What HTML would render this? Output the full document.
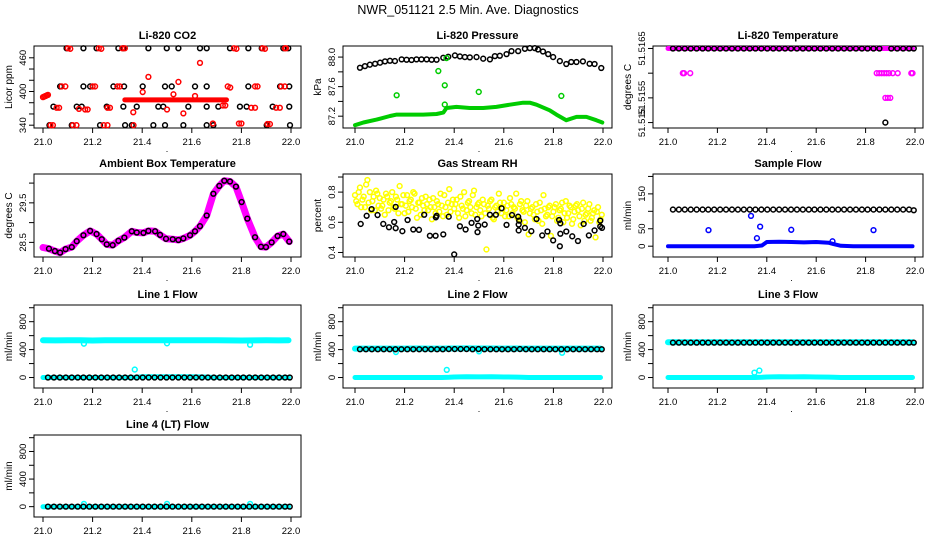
<!DOCTYPE html>
<html><head><meta charset="utf-8"><style>
html,body{margin:0;padding:0;background:#fff;}
svg{display:block;font-family:"Liberation Sans",Arial,sans-serif;}
</style></head><body>
<svg id="chart" width="936" height="540" viewBox="0 0 936 540">
<text x="468" y="14" text-anchor="middle" font-size="12.5">NWR_051121  2.5 Min. Ave. Diagnostics</text>
</svg>
<script>
// ---------- shared time axis ----------
const xTicks=[21.0,21.2,21.4,21.6,21.8,22.0];
const xTickLabels=["21.0","21.2","21.4","21.6","21.8","22.0"];
const T42=[21.020,21.044,21.068,21.092,21.116,21.140,21.163,21.187,21.211,21.235,21.259,21.283,21.307,21.331,21.354,21.378,21.402,21.426,21.450,21.474,21.498,21.522,21.546,21.570,21.593,21.617,21.641,21.665,21.689,21.713,21.737,21.761,21.785,21.808,21.832,21.856,21.880,21.904,21.928,21.952,21.976,21.995];
const bandT=[21.0,21.05,21.1,21.15,21.2,21.25,21.3,21.35,21.38,21.4,21.45,21.5,21.55,21.6,21.65,21.67,21.7,21.75,21.8,21.85,21.9,21.95,21.99];

// ---------- CO2 ----------
const co2BlackT=[21.026,21.116,21.230,21.331,21.358,21.445,21.492,21.566,21.660,21.687,21.902,21.996,
21.042,21.136,21.156,21.257,21.324,21.378,21.465,21.485,21.586,21.660,21.707,21.794,21.821,21.926,21.993,
21.069,21.163,21.190,21.284,21.327,21.402,21.492,21.519,21.613,21.660,21.828,21.956,21.993,
21.095,21.163,21.216,21.304,21.324,21.425,21.499,21.546,21.633,21.660,21.754,21.828,21.882,21.969,21.989];
const co2BlackV=[340,340,340,340,340,340,340,340,340,340,340,340,
373,373,373,373,373,373,373,373,373,373,373,373,373,373,373,
409,409,409,409,409,409,409,409,409,409,409,409,409,
477,477,477,477,477,477,477,477,477,477,477,477,477,477,477];
const co2RedT=[21.0,21.005,21.01,21.015,21.02,21.03,21.04,21.12,21.135,21.245,21.26,21.365,21.685,21.79,21.80,21.905,21.915,
21.055,21.065,21.145,21.17,21.18,21.26,21.27,21.725,21.735,21.84,21.855,21.94,21.955,
21.075,21.09,21.2,21.21,21.3,21.31,21.745,21.755,21.855,21.865,21.96,21.975,
21.1,21.11,21.225,21.235,21.32,21.33,21.77,21.78,21.885,21.895,21.975,21.98,
21.425,21.546,21.526,21.633,21.613,21.402,21.364,21.566,21.5];
const co2RedV=[390,391,392,393,394,340,340,340,340,340,340,340,343,343,343,342,342,
371,371,369,368,368,371,371,375,375,371,371,371,371,
409,409,409,409,409,409,409,407,409,409,409,409,
477,476,477,476,477,477,477,476,477,476,477,477,
426,417,395,451,392,399,363,361,368];
const co2BandT=[21.33,21.4,21.5,21.6,21.7,21.74];
const co2BandV=[385,385,385,385,385,385];

// ---------- Pressure ----------
const prBlackT=[21.020,21.040,21.060,21.081,21.101,21.121,21.141,21.161,21.188,21.208,21.228,21.248,21.268,21.289,21.309,21.329,21.356,21.376,21.403,21.423,21.443,21.463,21.490,21.517,21.544,21.564,21.584,21.611,21.631,21.658,21.685,21.705,21.725,21.738,21.758,21.779,21.799,21.826,21.852,21.872,21.893,21.919,21.946,21.966,21.993];
const prBlackV=[87.856,87.878,87.897,87.910,87.924,87.942,87.950,87.946,87.969,87.964,87.960,87.969,87.969,87.969,87.964,87.964,87.991,88.004,88.022,88.009,88.000,87.996,88.000,87.978,87.969,88.013,88.018,88.040,88.081,88.081,88.112,88.121,88.121,88.103,88.076,88.040,88.000,87.946,87.906,87.933,87.933,87.942,87.910,87.906,87.852];
const prGreenT=[21.0,21.034,21.087,21.141,21.168,21.221,21.275,21.329,21.356,21.369,21.409,21.463,21.517,21.570,21.624,21.678,21.705,21.732,21.785,21.812,21.852,21.893,21.933,21.973,21.997];
const prGreenV=[87.078,87.114,87.154,87.203,87.222,87.222,87.222,87.230,87.249,87.311,87.325,87.311,87.311,87.325,87.356,87.383,87.383,87.356,87.280,87.222,87.145,87.190,87.190,87.145,87.114];
const prOutT=[21.168,21.336,21.362,21.369,21.362,21.499,21.832];
const prOutV=[87.483,87.811,87.618,87.987,87.357,87.528,87.474];

// ---------- Li-820 Temperature ----------
const tpBlackV=[51.5165,51.5165,51.5165,51.5165,51.5165,51.5165,51.5165,51.5165,51.5165,51.5165,51.5165,51.5165,51.5165,51.5165,51.5165,51.5165,51.5165,51.5165,51.5165,51.5165,51.5165,51.5165,51.5165,51.5165,51.5165,51.5165,51.5165,51.5165,51.5165,51.5165,51.5165,51.5165,51.5165,51.5165,51.5165,51.5165,51.5150,51.5165,51.5165,51.5165,51.5165,51.5165];
const tpBandT=[21.0,21.99];
const tpBandV=[51.5165,51.5165];
const tpMagT=[21.06,21.065,21.09,21.845,21.855,21.865,21.875,21.885,21.895,21.91,21.93,21.985,21.99,21.88,21.89,21.9];
const tpMagV=[51.516,51.516,51.516,51.516,51.516,51.516,51.516,51.516,51.516,51.516,51.516,51.516,51.516,51.5155,51.5155,51.5155];

// ---------- Ambient Box Temperature ----------
const abT=[21.0,21.024,21.048,21.069,21.091,21.116,21.136,21.163,21.190,21.216,21.237,21.257,21.281,21.304,21.328,21.358,21.378,21.405,21.425,21.452,21.472,21.496,21.523,21.546,21.566,21.593,21.613,21.633,21.660,21.687,21.711,21.731,21.754,21.778,21.801,21.824,21.855,21.879,21.899,21.922,21.946,21.969,21.993];
const abV=[28.37,28.34,28.28,28.24,28.33,28.38,28.53,28.68,28.79,28.71,28.58,28.45,28.43,28.54,28.62,28.78,28.75,28.74,28.79,28.78,28.69,28.59,28.58,28.56,28.60,28.68,28.78,28.91,29.18,29.73,29.93,30.06,30.04,29.91,29.52,29.10,28.63,28.39,28.38,28.50,28.66,28.71,28.52];

// ---------- Gas Stream RH ----------
const rhT=[21.00,21.01,21.02,21.03,21.04,21.05,21.06,21.07,21.08,21.09,21.10,21.11,21.12,21.13,21.14,21.15,21.16,21.17,21.18,21.19,21.20,21.21,21.22,21.23,21.24,21.25,21.26,21.27,21.28,21.29,21.30,21.31,21.32,21.33,21.34,21.35,21.36,21.37,21.38,21.39,21.40,21.41,21.42,21.43,21.44,21.45,21.46,21.47,21.48,21.49,21.50,21.51,21.52,21.53,21.54,21.55,21.56,21.57,21.58,21.59,21.60,21.61,21.62,21.63,21.64,21.65,21.66,21.67,21.68,21.69,21.70,21.71,21.72,21.73,21.74,21.75,21.76,21.77,21.78,21.79,21.80,21.81,21.82,21.83,21.84,21.85,21.86,21.87,21.88,21.89,21.90,21.91,21.92,21.93,21.94,21.95,21.96,21.97,21.98,21.99];
const rhYellowA=[0.78,0.72,0.83,0.75,0.70,0.88,0.80,0.74,0.68,0.79,0.76,0.71,0.65,0.77,0.73,0.80,0.69,0.75,0.84,0.72,0.66,0.78,0.74,0.70,0.79,0.63,0.73,0.76,0.68,0.72,0.75,0.62,0.70,0.74,0.67,0.71,0.78,0.65,0.82,0.72,0.69,0.75,0.63,0.71,0.80,0.68,0.74,0.66,0.81,0.70,0.73,0.64,0.72,0.42,0.69,0.75,0.62,0.71,0.79,0.66,0.73,0.68,0.64,0.72,0.70,0.79,0.62,0.74,0.67,0.71,0.52,0.69,0.65,0.72,0.61,0.68,0.78,0.64,0.70,0.51,0.67,0.72,0.63,0.69,0.60,0.74,0.66,0.70,0.62,0.71,0.68,0.58,0.73,0.65,0.69,0.61,0.66,0.50,0.70,0.62];
const rhYellowB=[0.74,0.80,0.70,0.77,0.85,0.73,0.68,0.77,0.81,0.71,0.69,0.75,0.79,0.68,0.74,0.70,0.77,0.66,0.72,0.78,0.71,0.67,0.75,0.80,0.69,0.73,0.65,0.71,0.77,0.68,0.70,0.76,0.66,0.72,0.79,0.64,0.70,0.73,0.67,0.75,0.72,0.66,0.77,0.69,0.64,0.73,0.70,0.78,0.65,0.72,0.68,0.75,0.66,0.71,0.74,0.63,0.70,0.67,0.73,0.69,0.64,0.71,0.76,0.66,0.69,0.63,0.72,0.68,0.60,0.74,0.66,0.70,0.62,0.67,0.73,0.59,0.69,0.65,0.71,0.64,0.70,0.61,0.68,0.73,0.66,0.63,0.71,0.59,0.67,0.72,0.64,0.69,0.61,0.66,0.72,0.63,0.68,0.67,0.60,0.65];
const rhBlackT=[21.023,21.047,21.067,21.091,21.114,21.137,21.158,21.164,21.164,21.191,21.212,21.235,21.258,21.279,21.302,21.325,21.326,21.329,21.356,21.378,21.400,21.423,21.446,21.470,21.493,21.494,21.497,21.523,21.544,21.568,21.591,21.611,21.633,21.658,21.660,21.660,21.662,21.685,21.711,21.732,21.755,21.776,21.799,21.823,21.826,21.828,21.828,21.852,21.876,21.899,21.922,21.943,21.966,21.989,21.989,21.996];
const rhBlackV=[0.589,0.643,0.687,0.648,0.589,0.567,0.602,0.561,0.702,0.541,0.615,0.552,0.550,0.650,0.511,0.511,0.633,0.643,0.520,0.637,0.387,0.574,0.552,0.596,0.622,0.535,0.578,0.585,0.650,0.650,0.693,0.583,0.648,0.637,0.585,0.546,0.611,0.563,0.541,0.622,0.513,0.539,0.480,0.615,0.441,0.593,0.524,0.539,0.507,0.476,0.589,0.513,0.546,0.611,0.572,0.563];

// ---------- Sample Flow ----------
const sfBlackV=[105,105,105,105,105,105,105,105,105,105,105,105,105,105,105,105,105,105,105,105,105,105,105,105,105,105,105,105,105,105,105,105,105,105,105,105,105,105,105,105,105,103];
const sfBlueV=[0,0,0,0,0,0,0,0,2,12,13,12,11,12,10,6,1,0,0,0,0,0,0];
const sfOutT=[21.164,21.336,21.373,21.360,21.499,21.832,21.666];
const sfOutV=[46,87,56,23,47,46,14];

// ---------- Line flows ----------
const l1BlackV=[0,0,0,0,0,0,0,0,0,0,0,0,0,0,0,0,0,0,0,0,0,0,0,0,0,0,0,0,0,0,0,0,0,0,0,0,0,0,0,0,0,0];
const l1CyanHiV=[533,532,533,534,531,533,535,533,534,535,534,533,534,535,534,533,533,532,531,532,533,532,533];
const l1CyanLoV=[0,0,0,0,0,0,0,0,3,10,12,11,12,10,8,4,0,0,0,0,0,0,0];
const l1OutT=[21.165,21.5,21.835,21.37];
const l1OutV=[485,490,470,114];
const l2BlackV=[405,405,405,405,405,405,405,405,405,405,405,405,405,405,405,408,408,408,408,405,408,405,405,405,405,405,405,408,405,405,405,405,405,405,405,405,405,405,405,405,405,405];
const l2CyanHiV=[415,415,415,414,415,416,415,415,416,416,417,416,416,415,416,415,415,415,414,415,415,414,415];
const l2CyanLoV=[0,0,0,0,0,0,0,0,3,8,10,9,10,8,6,3,0,0,0,0,0,0,0];
const l2OutT=[21.165,21.5,21.835,21.37];
const l2OutV=[365,375,355,110];
const l3BlackV=[500,500,500,500,500,500,500,500,500,500,500,500,500,500,500,500,500,500,500,500,500,500,500,500,500,500,500,500,500,500,500,500,500,500,500,500,500,500,500,500,500,500];
const l3CyanHiV=[505,505,505,505,505,506,506,505,505,506,506,506,505,505,506,505,505,505,504,505,505,505,505];
const l3CyanLoV=[0,0,0,0,0,0,0,0,3,8,10,9,10,8,6,3,0,0,0,0,0,0,0];
const l3OutT=[21.35,21.37];
const l3OutV=[70,100];
const l4BlackV=[0,0,0,0,0,0,0,0,0,0,0,0,0,0,0,0,0,0,0,0,0,0,0,0,0,0,0,0,0,0,0,0,0,0,0,0,0,0,0,0,0,0];
const l4CyanV=[0,0,0,0,0,0,0,0,0,0,0,0,0,0,0,0,0,0,0,0,0,0,0];
const l4OutT=[21.165,21.5,21.835];
const l4OutV=[40,40,40];

const flowTicks=[0,200,400,600,800,1000];
const flowLabels=["0","","400","","800",""];

// ---------- drawing ----------
const NS="http://www.w3.org/2000/svg";
const svg=document.getElementById('chart');
function mk(tag,attrs,parent){const e=document.createElementNS(NS,tag);for(const k in attrs)e.setAttribute(k,attrs[k]);(parent||svg).appendChild(e);return e;}
const cols=[{L:34,R:301,xa:43,xb:291},{L:343,R:612,xa:355,xb:603},{L:653,R:923,xa:668,xb:915}];
const rows=[{T:46,B:128},{T:174,B:257},{T:305,B:388},{T:435,B:517}];

function panel(c,r,title,ylab,ymin,ymax,yt,ytl,slug){
  const C=cols[c],Rw=rows[r];
  const g=mk('g',{});
  
  
  const P={g:g,x:t=>C.xa+(t-21)*(C.xb-C.xa),y:v=>Rw.B-(v-ymin)/(ymax-ymin)*(Rw.B-Rw.T)};
  const box=mk('rect',{x:C.L,y:Rw.T,width:C.R-C.L,height:Rw.B-Rw.T,fill:'none',stroke:'#000','stroke-width':1},g);
  
  
  const tt=mk('text',{x:(C.L+C.R)/2,y:Rw.T-7,'text-anchor':'middle','font-size':11,'font-weight':'bold'},g);
  tt.textContent=title;
  
  
  const xa=mk('g',{},g);
  
  
  mk('line',{x1:C.xa,x2:C.xb,y1:Rw.B,y2:Rw.B,stroke:'#000'},xa);
  xTicks.forEach((t,i)=>{
    const X=P.x(t);
    mk('line',{x1:X,x2:X,y1:Rw.B,y2:Rw.B+5,stroke:'#000'},xa);
    const l=mk('text',{x:X,y:Rw.B+17,'text-anchor':'middle','font-size':9.5},xa);
    l.textContent=xTickLabels[i];
    
    
  });
  const dot=mk('text',{x:(C.xa+C.xb)/2,y:Rw.B+24,'text-anchor':'middle','font-size':9},xa);
  dot.textContent='.';
  
  
  const ya=mk('g',{},g);
  
  
  mk('line',{x1:C.L,x2:C.L,y1:P.y(yt[0]),y2:P.y(yt[yt.length-1]),stroke:'#000'},ya);
  yt.forEach((v,i)=>{
    const Y=P.y(v);
    mk('line',{x1:C.L-5,x2:C.L,y1:Y,y2:Y,stroke:'#000'},ya);
    if(ytl[i]){
      const l=mk('text',{x:0,y:0,'text-anchor':'middle','font-size':9.5,transform:`translate(${C.L-8},${Y}) rotate(-90)`},ya);
      l.textContent=ytl[i];
      
      
    }
  });
  const yl=mk('text',{x:0,y:0,'text-anchor':'middle','font-size':10,transform:`translate(${C.L-22},${(Rw.T+Rw.B)/2}) rotate(-90)`},ya);
  yl.textContent=ylab;
  
  
  return P;
}
function pts(P,ts,vs,color,name){
  const g=mk('g',{fill:'none',stroke:color,'stroke-width':1.5},P.g);
  
  
  ts.forEach((t,i)=>{
    const c=mk('circle',{cx:P.x(t),cy:P.y(vs[i]),r:2.4},g);
    
    
  });
}
function band(P,ts,vs,color,w,name){
  const d=ts.map((t,i)=>P.x(t).toFixed(1)+','+P.y(vs[i]).toFixed(1)).join(' ');
  const pl=mk('polyline',{points:d,fill:'none',stroke:color,'stroke-width':w,'stroke-linejoin':'round','stroke-linecap':'round'},P.g);
  
  
}

// CO2
let P=panel(0,0,'Li-820 CO2','Licor ppm',335,481,[340,360,380,400,420,440,460],['340','','','400','','','460'],'co2');
pts(P,co2BlackT,co2BlackV,'#000','co2-black-series');
band(P,co2BandT,co2BandV,'#f00',5,'co2-red-band');
pts(P,co2RedT,co2RedV,'#f00','co2-red-series');

// Pressure
P=panel(1,0,'Li-820 Pressure','kPa',87.04,88.15,[87.2,87.4,87.6,87.8,88.0],['87.2','','87.6','','88.0'],'pressure');
pts(P,prBlackT,prBlackV,'#000','pressure-black-series');
band(P,prGreenT,prGreenV,'#00cc00',4,'pressure-green-band');
pts(P,prOutT,prOutV,'#00cc00','pressure-green-outliers');

// Temperature
P=panel(2,0,'Li-820 Temperature','degrees C',51.51489,51.51655,[51.515,51.5155,51.516,51.5165],['51.515','51.5155','','51.5165'],'li820-temp');
band(P,tpBandT,tpBandV,'#ff00ff',5,'li820-temp-magenta-band');
pts(P,tpMagT,tpMagV,'#ff00ff','li820-temp-magenta-series');
pts(P,T42,tpBlackV,'#000','li820-temp-black-series');

// Ambient
P=panel(0,1,'Ambient Box Temperature','degrees C',28.13,30.23,[28.5,29.0,29.5,30.0],['28.5','','29.5',''],'ambient');
band(P,abT,abV,'#ff00ff',7,'ambient-magenta-band');
pts(P,abT.slice(1),abV.slice(1),'#000','ambient-black-series');

// RH
P=panel(1,1,'Gas Stream RH','percent',0.37,0.92,[0.4,0.5,0.6,0.7,0.8,0.9],['0.4','','0.6','','0.8',''],'rh');
pts(P,rhT,rhYellowA,'#ffff00','rh-yellow-series-a');
pts(P,rhT.map(t=>t+0.005),rhYellowB,'#ffff00','rh-yellow-series-b');
pts(P,rhBlackT,rhBlackV,'#000','rh-black-series');

// Sample Flow
P=panel(2,1,'Sample Flow','ml/min',-31,207,[0,50,100,150,200],['0','50','','150',''],'sample-flow');
band(P,bandT,sfBlueV,'#0000ff',4,'sample-flow-blue-band');
pts(P,sfOutT,sfOutV,'#0000ff','sample-flow-blue-outliers');
pts(P,T42,sfBlackV,'#000','sample-flow-black-series');

// Line flows
function flowPanel(c,r,title,slug,black,hi,lo,ot,ov){
  const Q=panel(c,r,title,'ml/min',-150,1039,flowTicks,flowLabels,slug);
  if(hi) band(Q,bandT,hi,'#00ffff',6,slug+'-cyan-high-band');
  band(Q,bandT,lo,'#00ffff',5,slug+'-cyan-low-band');
  pts(Q,ot,ov,'#00ffff',slug+'-cyan-outliers');
  pts(Q,T42,black,'#000',slug+'-black-series');
}
flowPanel(0,2,'Line 1 Flow','line1-flow',l1BlackV,l1CyanHiV,l1CyanLoV,l1OutT,l1OutV);
flowPanel(1,2,'Line 2 Flow','line2-flow',l2BlackV,l2CyanHiV,l2CyanLoV,l2OutT,l2OutV);
flowPanel(2,2,'Line 3 Flow','line3-flow',l3BlackV,l3CyanHiV,l3CyanLoV,l3OutT,l3OutV);
flowPanel(0,3,'Line 4 (LT) Flow','line4-flow',l4BlackV,null,l4CyanV,l4OutT,l4OutV);
</script>
</body></html>
